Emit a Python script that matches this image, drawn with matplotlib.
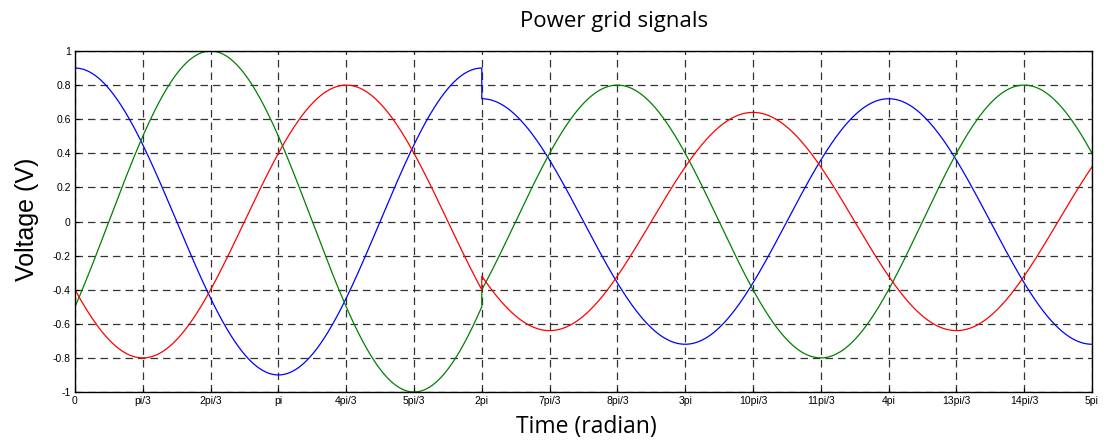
import numpy as np
import matplotlib.pyplot as plt

# three-phase signals: amplitude per phase before and after the sag at t = 2pi
phases = ['a', 'b', 'c']
colors = ['b', 'g', 'r']
amp_before = [0.9, 1.0, 0.8]
amp_after = [0.72, 0.8, 0.64]
shift = [0.0, 2 * np.pi / 3, 4 * np.pi / 3]
t_switch = 2 * np.pi

tick_labels = ['0', 'pi/3', '2pi/3', 'pi', '4pi/3', '5pi/3', '2pi', '7pi/3',
               '8pi/3', '3pi', '10pi/3', '11pi/3', '4pi', '13pi/3', '14pi/3', '5pi']
yticks = [-1, -0.8, -0.6, -0.4, -0.2, 0, 0.2, 0.4, 0.6, 0.8, 1]

t = np.linspace(0, 5 * np.pi, 3000)
t = np.sort(np.append(t, [t_switch, t_switch]))

fig = plt.figure(figsize=(11.11, 4.43), dpi=100)
ax = fig.add_axes([75 / 1111, 51 / 443, (1092 - 75) / 1111, (392 - 51) / 443])

for i in range(3):
    amp = np.where(t < t_switch, amp_before[i], amp_after[i])
    # second copy of t_switch takes the post-sag amplitude
    idx = np.where(t == t_switch)[0]
    amp[idx[0]] = amp_before[i]
    amp[idx[1]] = amp_after[i]
    v = amp * np.cos(t - shift[i])
    ax.plot(t, v, color=colors[i], lw=0.9)

ax.set_xlim(0, 5 * np.pi)
ax.set_ylim(-1, 1)
ax.set_xticks(np.arange(16) * np.pi / 3)
ax.set_xticklabels(tick_labels, fontsize=7.5, family='Liberation Sans')
ax.set_yticks(yticks)
ax.set_yticklabels(['%g' % y for y in yticks], fontsize=7.5, family='Liberation Sans')
ax.tick_params(direction='in', length=3, width=0.8, pad=3)
ax.grid(True, color='#333333', linestyle=(0, (6, 4)), lw=0.9)
for s in ax.spines.values():
    s.set_linewidth(1.0)

fig.text(614 / 1111, 1 - 22 / 443, 'Power grid signals', ha='center', va='center',
         fontsize=16, family='Open Sans')
fig.text(586 / 1111, 1 - 427 / 443, 'Time (radian)', ha='center', va='center',
         fontsize=16.5, family='Open Sans')
fig.text(27 / 1111, 1 - 219 / 443, 'Voltage (V)', ha='center', va='center',
         fontsize=18, family='Liberation Sans', rotation=90)

fig.savefig('out.png', dpi=100)
